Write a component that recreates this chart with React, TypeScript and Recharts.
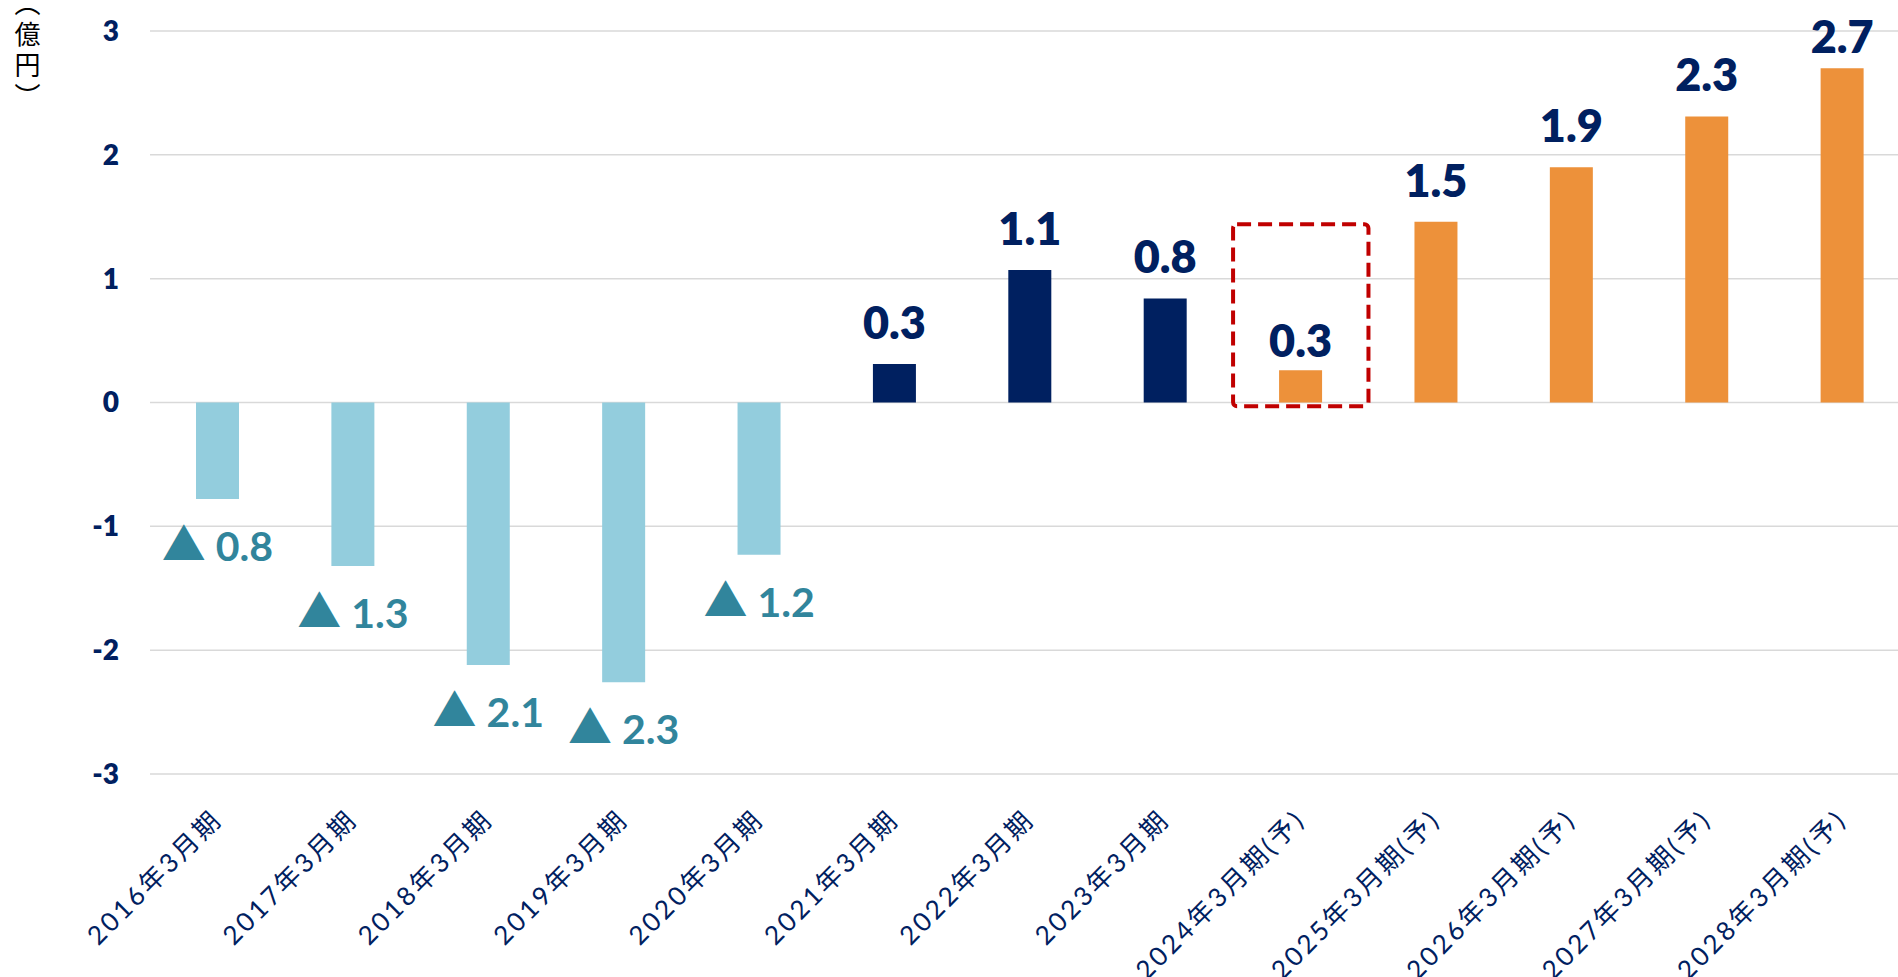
import { Bar, BarChart, CartesianGrid, Cell, LabelList, ReferenceArea, XAxis, YAxis } from 'recharts';

// 営業利益の推移（億円）
const PERIODS = [
  '2016年3月期',
  '2017年3月期',
  '2018年3月期',
  '2019年3月期',
  '2020年3月期',
  '2021年3月期',
  '2022年3月期',
  '2023年3月期',
  '2024年3月期(予)',
  '2025年3月期(予)',
  '2026年3月期(予)',
  '2027年3月期(予)',
  '2028年3月期(予)',
];
const PROFIT = [-0.78, -1.32, -2.12, -2.26, -1.23, 0.31, 1.07, 0.84, 0.26, 1.46, 1.9, 2.31, 2.7];
const KIND = ['loss', 'loss', 'loss', 'loss', 'loss', 'actual', 'actual', 'actual', 'plan', 'plan', 'plan', 'plan', 'plan'];
const Y_TICKS = [-3, -2, -1, 0, 1, 2, 3];
const HIGHLIGHT = '2024年3月期(予)';
const HIGHLIGHT_RANGE = [-0.03, 1.44];

const COLORS: Record<string, string> = {
  loss: '#93CDDD',
  actual: '#002060',
  plan: '#ED913A',
};
const NAVY = '#002060';
const TEAL = '#31859C';
const LATIN = 'Lato, "Noto Sans CJK JP", sans-serif';

const data = PERIODS.map((name, i) => ({ name, value: PROFIT[i], kind: KIND[i] }));

function PeriodTick({ x, y, payload }: any) {
  return (
    <g transform={`translate(${x + 6},${y + 47})`}>
      <text
        transform="rotate(-45)"
        textAnchor="end"
        fill={NAVY}
        fontSize={26}
        fontFamily={LATIN}
        letterSpacing={3}
      >
        {payload.value}
      </text>
    </g>
  );
}

function ValueLabel(props: any) {
  const vb = props.viewBox ?? props;
  const { x, y, width, height } = vb;
  const { value, index } = props;
  if (value == null || x == null) return null;
  const top = Math.min(y, y + height);
  const bottom = Math.max(y, y + height);
  const cx = x + width / 2;
  const text = Math.abs(value).toFixed(1);

  if (value < 0) {
    return (
      <text x={cx} y={bottom + 62} textAnchor="middle" fill={TEAL} fontFamily={LATIN} fontWeight={700} fontSize={41}>
        <tspan fontFamily='"Noto Sans CJK JP"' fontWeight={400} fontSize={44}>▲</tspan>
        <tspan dx={10}>{text}</tspan>
      </text>
    );
  }
  const gap = PERIODS[index] === HIGHLIGHT ? 13 : 25;
  const baseline = Math.max(top - gap, 53);
  return (
    <text x={cx} y={baseline} textAnchor="middle" fill={NAVY} fontFamily={LATIN} fontWeight={800} fontSize={45}>
      {text}
    </text>
  );
}

export default function App() {
  return (
    <div
      style={{
        position: 'fixed',
        left: 0,
        top: 0,
        width: 1898,
        height: 977,
        overflow: 'hidden',
        background: '#fff',
      }}
    >
      <div
        style={{
          position: 'absolute',
          left: 14,
          top: 3,
          writingMode: 'vertical-rl',
          fontFamily: '"Noto Sans CJK JP"',
          fontFeatureSettings: '"vhal" 1',
          fontSize: 26,
          lineHeight: 1,
          letterSpacing: 5,
          color: '#000',
        }}
      >
        （億円）
      </div>
      <BarChart width={1910} height={977} data={data} margin={{ top: 31, right: 0, bottom: 0, left: 0 }}>
        <CartesianGrid vertical={false} stroke="#D9D9D9" strokeWidth={1.5} />
        <XAxis
          dataKey="name"
          height={203}
          axisLine={false}
          tickLine={false}
          tickSize={0}
          tickMargin={0}
          interval={0}
          tick={<PeriodTick />}
        />
        <YAxis
          width={150}
          domain={[-3, 3]}
          ticks={Y_TICKS}
          axisLine={false}
          tickLine={false}
          tickSize={0}
          tickMargin={31}
          tick={{ fill: NAVY, fontSize: 28, fontWeight: 800, fontFamily: LATIN }}
        />
        <ReferenceArea
          x1={HIGHLIGHT}
          x2={HIGHLIGHT}
          y1={HIGHLIGHT_RANGE[0]}
          y2={HIGHLIGHT_RANGE[1]}
          ifOverflow="visible"
          shape={(p: any) => (
            <rect
              x={p.x}
              y={p.y}
              width={p.width}
              height={p.height}
              rx={4}
              fill="none"
              stroke="#C00000"
              strokeWidth={4}
              strokeDasharray="14 7"
            />
          )}
        />
        <Bar dataKey="value" barSize={43} isAnimationActive={false}>
          {data.map((d) => (
            <Cell key={d.name} fill={COLORS[d.kind]} />
          ))}
          <LabelList dataKey="value" content={<ValueLabel />} />
        </Bar>
      </BarChart>
    </div>
  );
}
